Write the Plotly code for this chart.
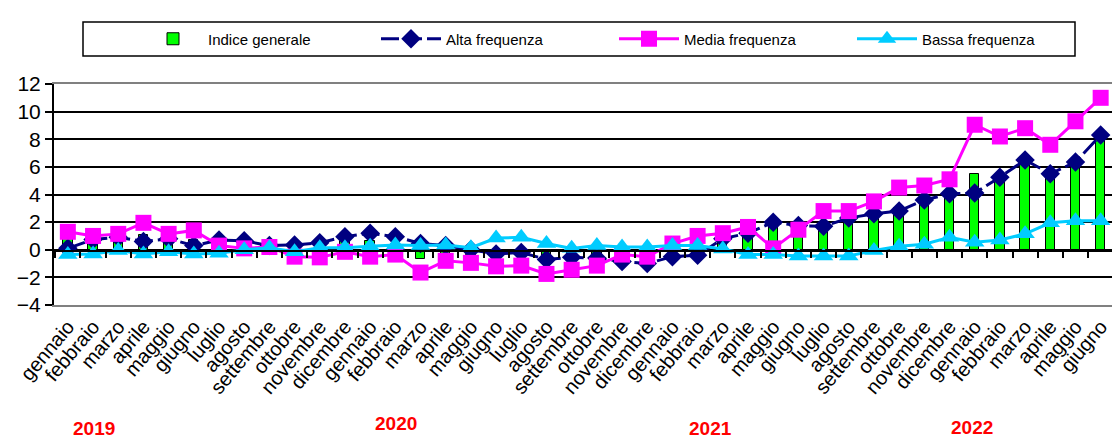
import plotly.graph_objects as go

months = ["gennaio", "febbraio", "marzo", "aprile", "maggio", "giugno", "luglio",
          "agosto", "settembre", "ottobre", "novembre", "dicembre"]
labels = months * 3 + months[:6]
years = ["2019", "2020", "2021", "2022"]

indice = [0.9, 0.8, 1.0, 1.1, 0.9, 0.7, 0.4, 0.4, 0.2, 0.2, 0.3, 0.6,
          0.6, 0.4, -0.7, -0.3, -0.4, -0.3, -0.2, -0.5, -0.6, -0.4, -0.3, -0.3,
          0.2, 0.5, 0.7, 1.0, 1.7, 1.8, 1.8, 2.4, 2.7, 3.0, 3.8, 3.8,
          5.45, 5.3, 6.3, 5.5, 6.2, 7.95]
alta = [0.1, 0.75, 0.9, 0.6, 0.8, 0.3, 0.7, 0.65, 0.3, 0.35, 0.5, 0.95,
        1.2, 0.95, 0.45, 0.3, 0.0, -0.3, -0.2, -0.7, -0.55, -0.6, -0.85, -1.0,
        -0.5, -0.4, 0.8, 1.2, 2.0, 1.75, 1.7, 2.3, 2.6, 2.8, 3.6, 4.05,
        4.1, 5.25, 6.5, 5.5, 6.35, 8.3]
media = [1.3, 1.0, 1.15, 1.95, 1.15, 1.4, 0.3, 0.1, 0.2, -0.5, -0.55, -0.15,
         -0.5, -0.35, -1.65, -0.8, -0.95, -1.2, -1.15, -1.75, -1.45, -1.15, -0.35, -0.5,
         0.45, 1.0, 1.2, 1.65, 0.1, 1.45, 2.8, 2.8, 3.5, 4.5, 4.65, 5.1,
         9.05, 8.2, 8.8, 7.6, 9.3, 11.0]
bassa = [-0.35, -0.3, -0.05, -0.3, -0.15, -0.3, -0.25, 0.0, 0.15, -0.15, 0.15, 0.15,
         0.25, 0.35, 0.3, 0.35, 0.15, 0.85, 0.9, 0.45, 0.1, 0.3, 0.2, 0.2,
         0.3, 0.3, 0.05, -0.35, -0.35, -0.45, -0.45, -0.45, -0.05, 0.25, 0.4, 0.9,
         0.55, 0.7, 1.15, 1.95, 2.1, 2.1]

x = list(range(len(labels)))

# plot area in pixels
L, R, T, B = 54, 1112, 84, 305
W, H = R - L, B - T
def px(v):
    return (v - L) / W
def py(v):
    return (B - v) / H

fig = go.Figure()
fig.add_trace(go.Bar(x=x, y=indice, name="Indice generale", width=0.37,
                     marker=dict(color="#00FF00", line=dict(color="black", width=1))))
fig.add_trace(go.Scatter(x=x, y=alta, name="Alta frequenza", mode="lines+markers", xaxis="x2",
                         line=dict(color="#000080", width=3, dash="18px,5px"),
                         marker=dict(symbol="diamond", size=15, color="#000080")))
fig.add_trace(go.Scatter(x=x, y=media, name="Media frequenza", mode="lines+markers", xaxis="x2",
                         line=dict(color="#FF00FF", width=3),
                         marker=dict(symbol="square", size=16, color="#FF00FF")))
fig.add_trace(go.Scatter(x=x, y=bassa, name="Bassa frequenza", mode="lines+markers", xaxis="x2",
                         line=dict(color="#00CCFF", width=3),
                         marker=dict(symbol="triangle-up", size=17, color="#00CCFF")))

font = "Liberation Sans, Arial, sans-serif"
xr = [-0.55, len(labels) - 0.55]
fig.update_layout(
    width=1112, height=440,
    margin=dict(l=L, r=1112 - R, t=T, b=440 - B, autoexpand=False),
    paper_bgcolor="white", plot_bgcolor="white",
    font=dict(family=font, color="black"),
    showlegend=True,
    legend=dict(orientation="h", x=px(138), y=py(39), xanchor="left", yanchor="middle",
                entrywidth=163, entrywidthmode="pixels", itemwidth=60,
                font=dict(size=15, family=font), bgcolor="rgba(0,0,0,0)", borderwidth=0,
                traceorder="normal"),
    bargap=0,
    xaxis=dict(range=xr, tickmode="array", tickvals=x, ticktext=labels,
               tickangle=-50, tickfont=dict(size=20), showgrid=False, ticks="",
               showline=True, linecolor="gray", linewidth=2, mirror=True, zeroline=False),
    xaxis2=dict(overlaying="x", anchor="free", position=py(251), matches="x",
                showticklabels=False, tickmode="array",
                tickvals=[i - 0.5 for i in range(len(labels) + 1)],
                ticks="outside", ticklen=6, tickcolor="black", tickwidth=2,
                showline=True, linecolor="black", linewidth=2, showgrid=False, zeroline=False),
    yaxis=dict(range=[-4, 12], dtick=2, tickfont=dict(size=21), showgrid=True,
               gridcolor="black", gridwidth=1.5, zeroline=False,
               showline=True, linecolor="black", linewidth=2, ticks="outside",
               ticklen=7, tickcolor="black", tickwidth=2),
)

fig.add_shape(type="rect", xref="paper", yref="paper",
              x0=px(83), x1=px(1075), y0=py(56), y1=py(22),
              line=dict(color="black", width=1.5))

year_pos = [(94, 428), (396, 424), (710, 428), (972, 427)]
for yr, (ax_, ay_) in zip(years, year_pos):
    fig.add_annotation(text="<b>" + yr + "</b>", xref="paper", yref="paper", x=px(ax_), y=py(ay_),
                       showarrow=False, font=dict(size=19, color="#FF0000", family=font),
                       xanchor="center", yanchor="middle")

fig.write_html("out.html", config={"displayModeBar": False},
               post_script="document.body.style.margin='0';document.body.style.padding='0';")
